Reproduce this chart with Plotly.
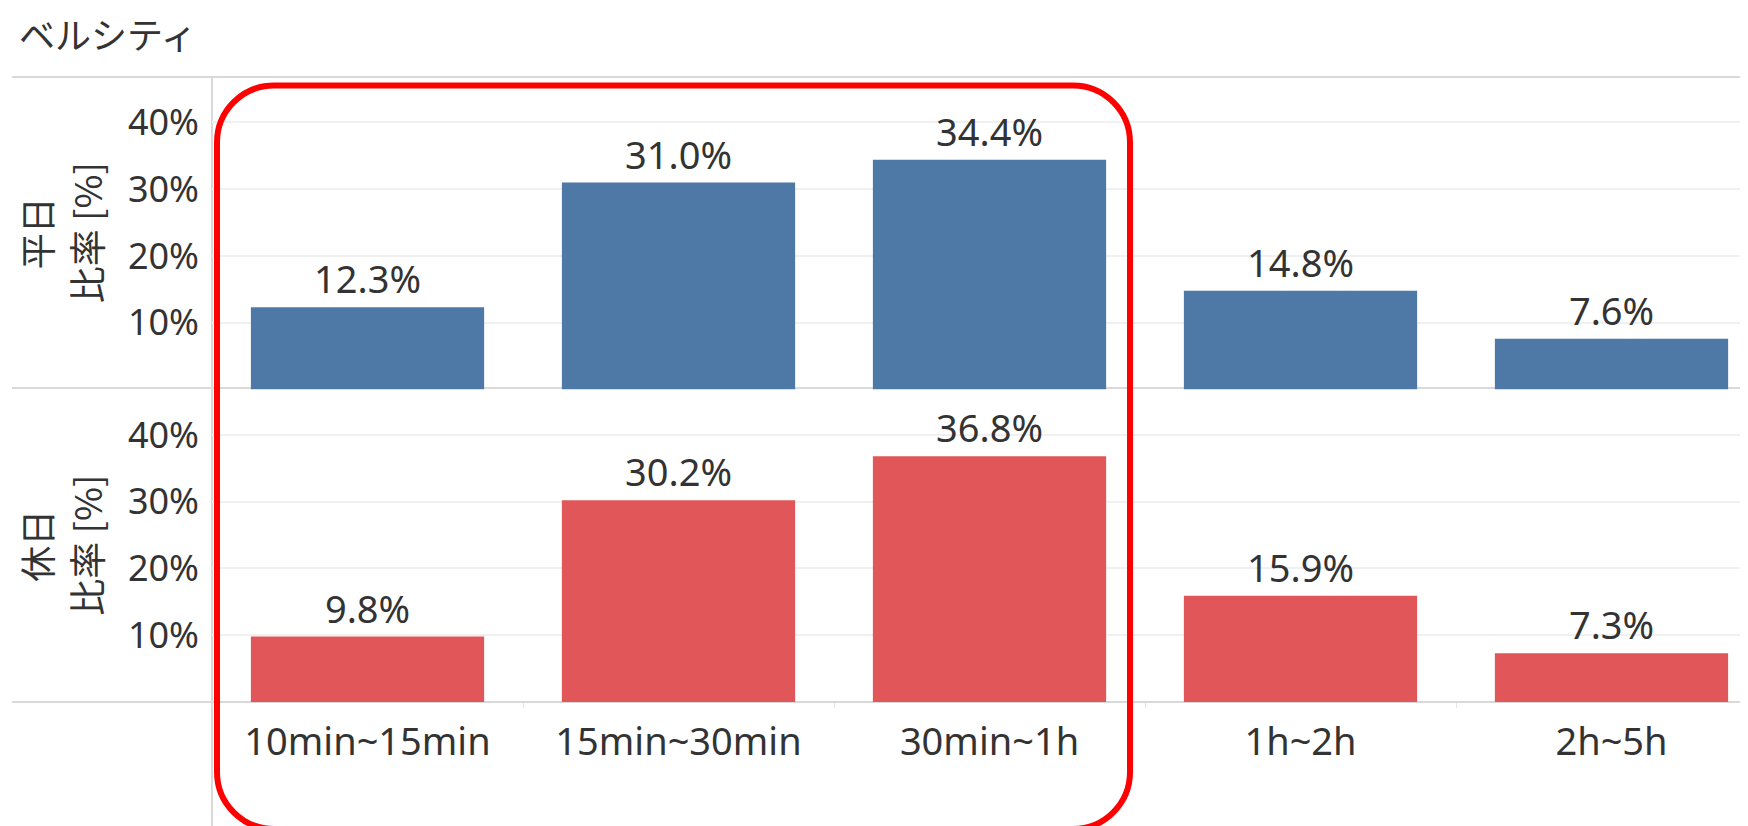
import plotly.graph_objects as go
from plotly.subplots import make_subplots

categories = ["10min~15min", "15min~30min", "30min~1h", "1h~2h", "2h~5h"]
weekday = [12.3, 31.0, 34.4, 14.8, 7.6]
holiday = [9.8, 30.2, 36.8, 15.9, 7.3]
tick_vals = [10, 20, 30, 40]
tick_text = ["10%", "20%", "30%", "40%"]
title_text = "ベルシティ"
row_labels = [("平日", "比率 [%]"), ("休日", "比率 [%]")]

# page body margin offset (plotly html has 8px body margin)
OFF = 8
W, H = 1748, 826
WIN_LEFT, WIN_TOP, WIN_BOTTOM = 212, 77, 702
ML = WIN_LEFT - OFF
MT = WIN_TOP - OFF
MB = H - (WIN_BOTTOM - OFF)
MR = 0
PW, PH = W - ML - MR, H - MT - MB
CAT_PX = 311.0
FONT_CJK = "Noto Sans CJK JP"
FONT_LAT = "Noto Sans, Noto Sans CJK JP"
TXT = "#333333"


def px_x(x):
    return (x - OFF - ML) / PW


def px_y(y):
    return (H - MB - (y - OFF)) / PH


fig = make_subplots(rows=2, cols=1, shared_xaxes=True, vertical_spacing=0)

for row, (vals, color) in enumerate([(weekday, "#4E79A7"), (holiday, "#E15759")], start=1):
    fig.add_trace(
        go.Bar(
            x=categories,
            y=vals,
            marker=dict(color=color, line=dict(width=0)),
            text=[f"{v:.1f}%" for v in vals],
            textposition="outside",
            textfont=dict(family=FONT_LAT, size=38, color=TXT),
            cliponaxis=False,
            showlegend=False,
            hoverinfo="skip",
        ),
        row=row,
        col=1,
    )

yaxis_style = dict(
    range=[0, 46.8],
    tickvals=tick_vals,
    ticktext=tick_text,
    showgrid=True,
    gridcolor="#f0f0f0",
    gridwidth=2,
    zeroline=False,
    showline=False,
    ticks="",
    ticklabelstandoff=12,
    tickfont=dict(family=FONT_LAT, size=36, color=TXT),
)
fig.update_yaxes(**yaxis_style, row=1, col=1)
fig.update_yaxes(**yaxis_style, row=2, col=1)

x_hi = -0.5 + PW / CAT_PX
fig.update_xaxes(range=[-0.5, x_hi], showgrid=False, zeroline=False, showline=False)
fig.update_xaxes(showticklabels=False, ticks="", row=1, col=1)
fig.update_xaxes(
    showticklabels=True,
    tickson="boundaries",
    ticks="outside",
    ticklen=5,
    tickcolor="#e4e4e4",
    tickwidth=1,
    ticklabelstandoff=14,
    tickfont=dict(family=FONT_LAT, size=38, color=TXT),
    row=2,
    col=1,
)

shapes = []
line_col = "#d9d9d9"
for y in (77, 388, 702):
    shapes.append(dict(type="line", xref="paper", yref="paper",
                       x0=px_x(12), x1=1, y0=px_y(y), y1=px_y(y),
                       line=dict(color=line_col, width=2), layer="below"))
shapes.append(dict(type="line", xref="paper", yref="paper",
                   x0=px_x(212), x1=px_x(212), y0=px_y(77), y1=px_y(H + 10),
                   line=dict(color=line_col, width=2), layer="below"))

# red rounded rectangle highlight (window px)
L, R, T, B, r = 217, 1130, 85.5, 829, 57
k = 0.5523 * r
pts = [
    ("M", [(L + r, T)]),
    ("L", [(R - r, T)]),
    ("C", [(R - r + k, T), (R, T + r - k), (R, T + r)]),
    ("L", [(R, B - r)]),
    ("C", [(R, B - r + k), (R - r + k, B), (R - r, B)]),
    ("L", [(L + r, B)]),
    ("C", [(L + r - k, B), (L, B - r + k), (L, B - r)]),
    ("L", [(L, T + r)]),
    ("C", [(L, T + r - k), (L + r - k, T), (L + r, T)]),
]
path = ""
for cmd, ps in pts:
    path += cmd + " " + " ".join(f"{px_x(x):.5f},{px_y(y):.5f}" for x, y in ps) + " "
path += "Z"
shapes.append(dict(type="path", xref="paper", yref="paper", path=path,
                   line=dict(color="#FF0000", width=6), fillcolor="rgba(0,0,0,0)", layer="above"))

annotations = [
    dict(text=title_text, xref="paper", yref="paper", x=px_x(18), y=px_y(33),
         xanchor="left", yanchor="middle", showarrow=False, borderpad=0,
         font=dict(family=FONT_CJK, size=36, color=TXT)),
]
for i, (l1, l2) in enumerate(row_labels):
    yref = "y domain" if i == 0 else "y2 domain"
    annotations.append(dict(text=l1, xref="paper", yref=yref, x=px_x(36), y=0.5,
                            xanchor="center", yanchor="middle", textangle=-90, showarrow=False,
                            borderpad=0, font=dict(family=FONT_CJK, size=36, color=TXT)))
    annotations.append(dict(text=l2, xref="paper", yref=yref, x=px_x(86), y=0.5,
                            xanchor="center", yanchor="middle", textangle=-90, showarrow=False,
                            borderpad=0, font=dict(family=FONT_CJK, size=37, color=TXT)))

fig.update_layout(
    width=W,
    height=H,
    margin=dict(l=ML, r=MR, t=MT, b=MB, pad=0),
    paper_bgcolor="white",
    plot_bgcolor="white",
    bargap=0.25,
    shapes=shapes,
    annotations=annotations,
    font=dict(family=FONT_CJK, color=TXT),
)

fig.write_html("out.html")
